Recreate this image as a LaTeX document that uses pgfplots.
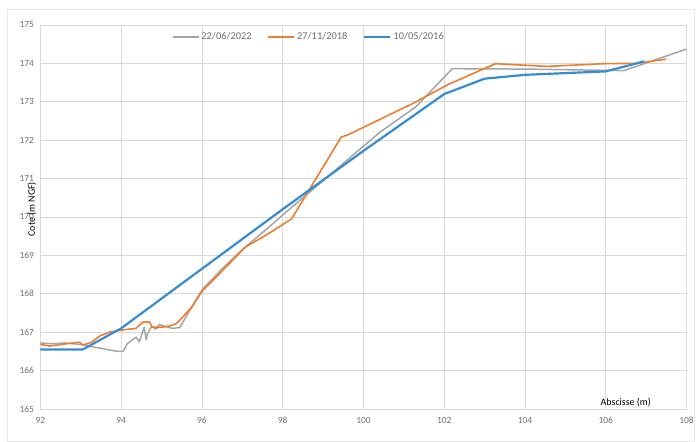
\documentclass[border=0pt]{standalone}
\usepackage{pgfplots}
\pgfplotsset{compat=1.18}
\usepackage{fontspec}
\setmainfont{Carlito}
\definecolor{cgray}{RGB}{165,165,165}
\definecolor{corange}{RGB}{237,125,49}
\definecolor{cblue}{RGB}{52,140,210}
\definecolor{cgrid}{RGB}{217,217,217}
\definecolor{ctext}{RGB}{110,110,110}
\begin{document}
\begin{tikzpicture}
\path (-40.5bp,-32.5bp) rectangle (656.5bp,410.5bp);
\draw[cgrid!60, line width=0.6bp] (-33.5bp,-32.5bp) rectangle (656.5bp,401.5bp);
\begin{axis}[
  scale only axis,
  width=648.5bp, height=385.5bp,
  xmin=92, xmax=108, ymin=165, ymax=175,
  xtick={92,94,...,108}, ytick={165,166,...,175},
  grid=major,
  major grid style={cgrid, line width=0.8bp},
  axis line style={cgrid, line width=0.8bp},
  major tick length=0pt,
  tick label style={font=\fontsize{9.5}{10}\selectfont, text=ctext},
  /pgf/number format/assume math mode=true,
  /pgf/number format/1000 sep={},
  xticklabel style={yshift=-5bp},
  yticklabel style={xshift=-3bp},
  xlabel={Abscisse (m)},
  ylabel={Cote (m NGF)},
  label style={font=\fontsize{10.5}{11}\selectfont, text=ctext},
  every axis x label/.style={at={(axis description cs:0.906,0.017)}, anchor=center},
  every axis y label/.style={at={(axis description cs:-0.013,0.52)}, rotate=90, anchor=center},
  legend style={draw=none, fill=none, legend columns=3,
    at={(axis description cs:0.4156,0.969)}, anchor=center,
    font=\fontsize{10.5}{11}\selectfont, text=ctext,
    /tikz/every even column/.append style={column sep=14bp}},
  legend image code/.code={\draw[#1] (0bp,0bp) -- (26bp,0bp);},
]
\addplot[cgray, line width=1.5bp, line join=round] coordinates {
(92.0,166.72) (92.3,166.7) (92.6,166.72) (93.0,166.68) (93.3,166.62) (93.6,166.56)
(93.9,166.5) (94.05,166.5) (94.15,166.7) (94.37,166.87) (94.45,166.75) (94.57,167.13)
(94.62,166.8) (94.65,166.95) (94.75,167.15) (94.87,167.08) (94.94,167.2) (95.1,167.15)
(95.27,167.1) (95.45,167.12) (96.0,168.1) (96.5,168.65) (97.0,169.15)
(97.82,169.88) (98.0,170.05) (100.4,172.2)
(101.3,172.87) (102.2,173.86) (104.0,173.85) (106.45,173.81) (108.0,174.37)
};
\addlegendentry{22/06/2022}
\addplot[corange, line width=1.6bp, line join=round] coordinates {
(92.0,166.68) (92.23,166.64) (92.65,166.7) (92.97,166.74) (93.05,166.66) (93.27,166.74)
(93.47,166.9) (93.71,167.0) (93.96,167.05) (94.2,167.08) (94.37,167.1) (94.53,167.26)
(94.7,167.27) (94.77,167.13) (95.02,167.13) (95.19,167.16) (95.36,167.22) (95.48,167.34)
(95.76,167.67) (96.0,168.06) (96.6,168.7) (97.08,169.22) (97.58,169.52) (98.22,169.95)
(99.45,172.08) (99.62,172.14) (101.27,172.98) (102.1,173.45) (103.27,173.99) (104.55,173.92)
(105.95,173.99) (106.77,174.0) (107.5,174.11)
};
\addlegendentry{27/11/2018}
\addplot[cblue, line width=2.2bp, line join=round] coordinates {
(92.0,166.55) (93.05,166.55) (94.0,167.1) (96.0,168.65) (98.0,170.2) (100.0,171.72)
(102.0,173.2) (103.0,173.6) (104.0,173.7) (106.0,173.79) (106.95,174.05)
};
\addlegendentry{10/05/2016}
\end{axis}
\end{tikzpicture}
\end{document}
